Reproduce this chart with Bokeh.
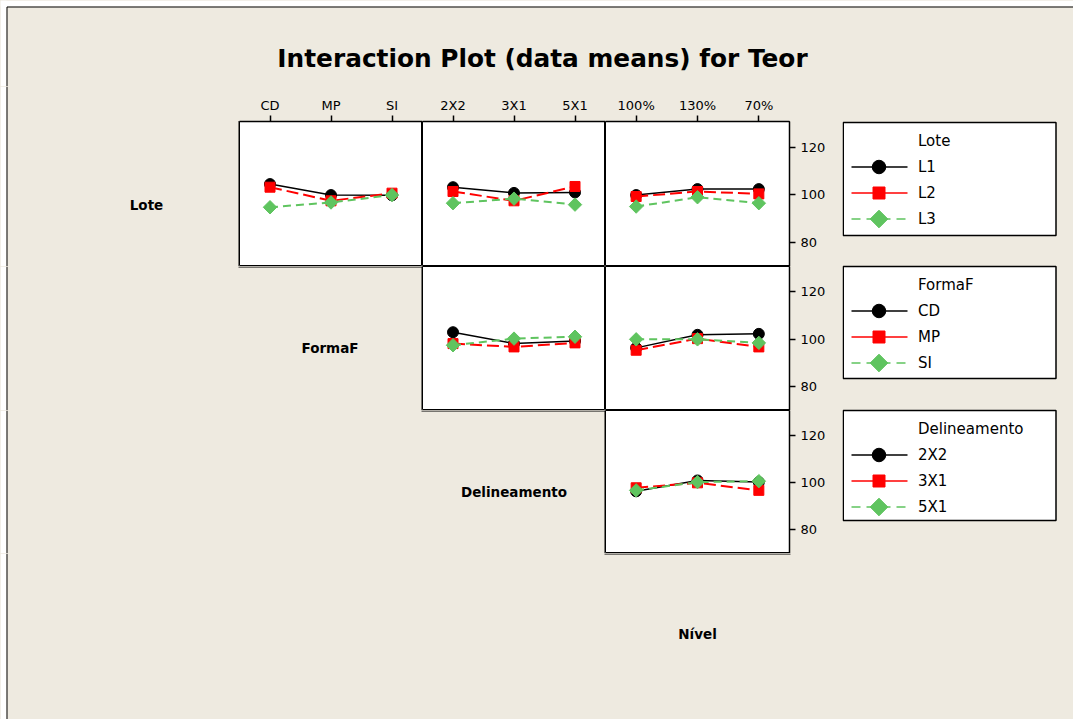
import numpy as np
from bokeh.plotting import figure
from bokeh.layouts import row, column
from bokeh.models import Range1d, FactorRange, FixedTicker, Plot
from bokeh.embed import file_html
from bokeh.resources import INLINE
from bokeh.core.properties import value

# ---- factor levels -------------------------------------------------------
lote = ["L1", "L2", "L3"]
forma = ["CD", "MP", "SI"]
delin = ["2X2", "3X1", "5X1"]
nivel = ["100%", "130%", "70%"]

# ---- means of Teor for each pair of factors ------------------------------
# Lote traces against FormaF
lote_forma_L1 = [104.5, 99.9, 99.8]
lote_forma_L2 = [103.2, 97.5, 100.7]
lote_forma_L3 = [94.8, 96.8, 99.9]
# Lote traces against Delineamento
lote_delin_L1 = [103.2, 100.8, 101.0]
lote_delin_L2 = [101.4, 97.5, 103.5]
lote_delin_L3 = [96.5, 98.4, 95.9]
# Lote traces against Nivel
lote_nivel_L1 = [99.9, 102.4, 102.4]
lote_nivel_L2 = [99.3, 101.4, 100.4]
lote_nivel_L3 = [95.1, 99.0, 96.5]
# FormaF traces against Delineamento
forma_delin_CD = [103.0, 98.2, 99.3]
forma_delin_MP = [98.2, 96.8, 98.5]
forma_delin_SI = [97.5, 100.3, 101.1]
# FormaF traces against Nivel
forma_nivel_CD = [96.4, 101.9, 102.3]
forma_nivel_MP = [95.4, 100.3, 96.8]
forma_nivel_SI = [100.0, 100.0, 98.5]
# Delineamento traces against Nivel
delin_nivel_2X2 = [96.4, 101.0, 100.3]
delin_nivel_3X1 = [97.9, 100.0, 96.8]
delin_nivel_5X1 = [96.8, 100.3, 100.7]

y_ticks = [80, 100, 120]
Y_LO, Y_HI = 70.0, 130.7

BG = "#EEEAE0"
FONT = "DejaVu Sans"
GREEN = "#5FC45F"

# each figure keeps its own frame; no cross-figure frame alignment
COMMON = dict(toolbar_location=None, output_backend="svg", title=None)
if "frame_align" in Plot.properties():
    COMMON["frame_align"] = False

# line/marker style of the 1st, 2nd and 3rd trace level
STYLES = [
    dict(color="black", marker="circle", size=11, angle=0.0, dash="solid", lw=1.5,
         leg_dash="solid", leg_size=13.5),
    dict(color="#FF0000", marker="square", size=10, angle=0.0, dash="12 5", lw=2,
         leg_dash="solid", leg_size=12),
    dict(color=GREEN, marker="square", size=9.5, angle=np.pi / 4, dash="8 5", lw=2,
         leg_dash="9 6", leg_size=12.5),
]

TOP_BORDER = 35
RIGHT_BORDER = 53


def panel(xcats, series, width, height, top_axis=False, right_axis=False):
    p = figure(width=width, height=height,
               x_range=FactorRange(*xcats), y_range=Range1d(Y_LO, Y_HI),
               x_axis_location="above" if top_axis else None,
               y_axis_location="right" if right_axis else None,
               min_border_left=0, min_border_bottom=0,
               min_border_top=TOP_BORDER if top_axis else 0,
               min_border_right=RIGHT_BORDER if right_axis else 0,
               background_fill_color="white", border_fill_color=BG,
               outline_line_color="black", outline_line_width=1, **COMMON)
    p.xgrid.grid_line_color = None
    p.ygrid.grid_line_color = None
    if top_axis:
        ax = p.xaxis[0]
        ax.major_tick_in = 0
        ax.major_tick_out = 6
        ax.major_tick_line_color = "black"
        ax.major_tick_line_width = 1.5
        ax.axis_line_color = "black"
        ax.axis_line_width = 1.5
        ax.major_label_standoff = 3
        ax.major_label_text_font = FONT
        ax.major_label_text_font_size = "13px"
        ax.major_label_text_color = "black"
    if right_axis:
        ay = p.yaxis[0]
        ay.ticker = FixedTicker(ticks=y_ticks)
        ay.major_tick_in = 0
        ay.major_tick_out = 6
        ay.major_tick_line_color = "black"
        ay.major_tick_line_width = 1.5
        ay.minor_tick_line_color = None
        ay.axis_line_color = "black"
        ay.axis_line_width = 1.5
        ay.major_label_standoff = 5
        ay.major_label_text_font = FONT
        ay.major_label_text_font_size = "13px"
        ay.major_label_text_color = "black"
    for vals, st in zip(series, STYLES):
        p.line(x=xcats, y=vals, line_color=st["color"], line_width=st["lw"],
               line_dash=st["dash"])
        p.scatter(x=xcats, y=vals, marker=st["marker"], size=st["size"],
                  angle=st["angle"], fill_color=st["color"], line_color=st["color"])
    return p


def deco(w, h):
    f = figure(width=w, height=h,
               x_range=Range1d(0, w), y_range=Range1d(h, 0),
               x_axis_location=None, y_axis_location=None, min_border=0,
               background_fill_color=BG, border_fill_color=BG,
               outline_line_color=None, **COMMON)
    f.xgrid.grid_line_color = None
    f.ygrid.grid_line_color = None
    return f


def left_edge(f, h, top=0.0):
    f.quad(left=0, right=6, top=0, bottom=h, fill_color="white", line_color=None)
    f.segment(x0=6.5, y0=top, x1=6.5, y1=h, line_color="black", line_width=1)


def label(f, x, y, txt, size="13.5px", bold=True, align="center"):
    f.text(x=[x], y=[y], text=[txt], text_font=value(FONT), text_font_size=size,
           text_font_style="bold" if bold else "normal", text_align=align,
           text_baseline="middle", text_color="black")


def edge(f, x0, y0, x1, y1):
    # outer side of a panel frame that borders an empty cell
    f.segment(x0=x0, y0=y0, x1=x1, y1=y1, line_color="black", line_width=1)


# ---- header with the title ------------------------------------------------
header = deco(1073, 86)
header.quad(left=0, right=1073, top=0, bottom=6, fill_color="white", line_color=None)
left_edge(header, 86, top=6.5)
header.segment(x0=6.5, y0=6.5, x1=1073, y1=6.5, line_color="black", line_width=1)
label(header, 542, 58, "Interaction Plot (data means) for Teor", size="24.8px")

# ---- row 1: Lote ------------------------------------------------------------
cellA1 = deco(239, 180)
left_edge(cellA1, 180)
label(cellA1, 146, 118, "Lote")
edge(cellA1, 238.5, 34.5, 238.5, 180)

p11 = panel(forma, [lote_forma_L1, lote_forma_L2, lote_forma_L3], 183, 180, top_axis=True)
p12 = panel(delin, [lote_delin_L1, lote_delin_L2, lote_delin_L3], 183, 180, top_axis=True)
p13 = panel(nivel, [lote_nivel_L1, lote_nivel_L2, lote_nivel_L3], 237, 180,
            top_axis=True, right_axis=True)

# ---- row 2: FormaF ----------------------------------------------------------
cellA2 = deco(422, 144)
left_edge(cellA2, 144)
label(cellA2, 329.5, 81.5, "FormaF")
edge(cellA2, 238, 0.5, 422, 0.5)
edge(cellA2, 421.5, 0, 421.5, 144)

p22 = panel(delin, [forma_delin_CD, forma_delin_MP, forma_delin_SI], 183, 144)
p23 = panel(nivel, [forma_nivel_CD, forma_nivel_MP, forma_nivel_SI], 237, 144,
            right_axis=True)

# ---- row 3: Delineamento ----------------------------------------------------
cellA3 = deco(605, 143)
left_edge(cellA3, 143)
label(cellA3, 513.5, 81, "Delineamento")
edge(cellA3, 421, 0.5, 605, 0.5)
edge(cellA3, 604.5, 0, 604.5, 143)

p33 = panel(nivel, [delin_nivel_2X2, delin_nivel_3X1, delin_nivel_5X1], 237, 143,
            right_axis=True)

# ---- footer: Nivel ------------------------------------------------------------
footer = deco(1073, 166)
left_edge(footer, 166)
label(footer, 697, 80, "Nível")
edge(footer, 604, 0.5, 790, 0.5)

# ---- legends ----------------------------------------------------------------
leg = deco(231, 467)
legends = [("Lote", lote, 36, 113), ("FormaF", forma, 180, 112),
           ("Delineamento", delin, 324, 110)]
for name, levels, top, height in legends:
    leg.quad(left=0.75, right=213.5, top=top, bottom=top + height,
             fill_color="white", line_color="black", line_width=1.5)
    label(leg, 75.5, top + 18.5, name, size="15px", bold=False, align="left")
    for i, (lev, st) in enumerate(zip(levels, STYLES)):
        yy = top + 44.5 + 26 * i
        leg.segment(x0=9, y0=yy, x1=65, y1=yy, line_color=st["color"],
                    line_width=1.5, line_dash=st["leg_dash"])
        leg.scatter(x=[36.5], y=[yy], marker=st["marker"], size=st["leg_size"],
                    angle=st["angle"], fill_color=st["color"], line_color=st["color"])
        label(leg, 75.5, yy, lev, size="15px", bold=False, align="left")

grid_block = column(row(cellA1, p11, p12, p13), row(cellA2, p22, p23), row(cellA3, p33))
page = column(header, row(grid_block, leg), footer)

html = file_html(page, INLINE)
html = html.replace("<head>", "<head><style>html, body { margin: 0; padding: 0; "
                    "background: %s; }</style>" % BG, 1)
open("out.html", "w").write(html)
